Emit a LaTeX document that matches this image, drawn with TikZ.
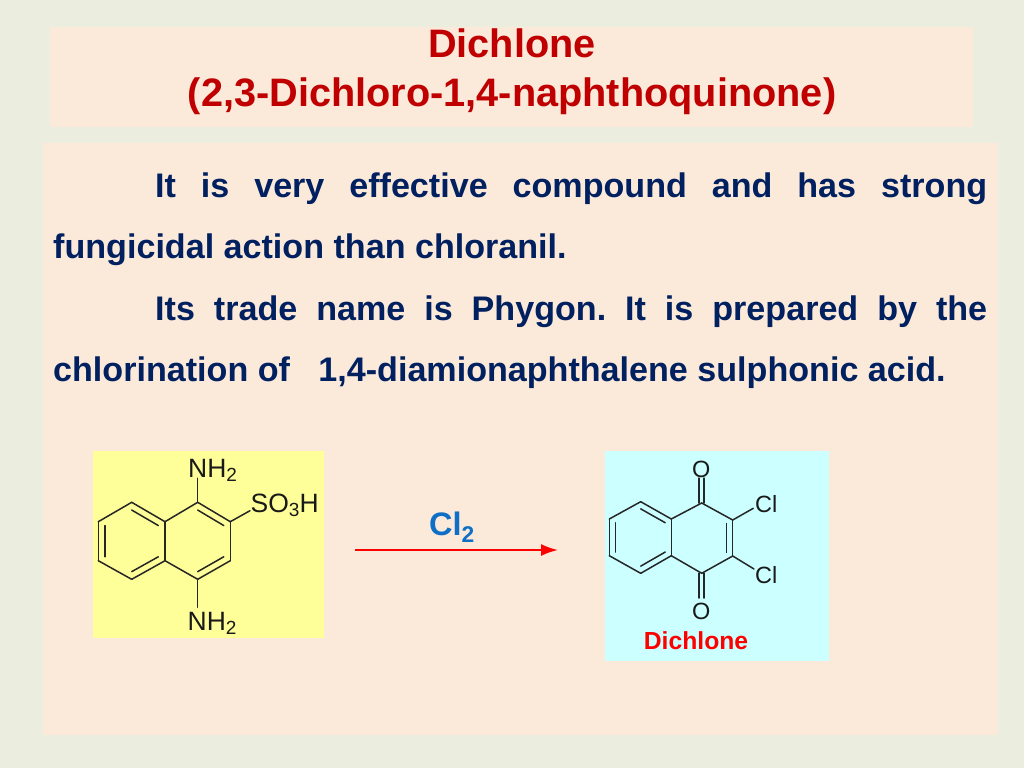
\documentclass[tikz,border=0pt]{standalone}
\usepackage{fontspec}
\setmainfont{Liberation Sans}
\usetikzlibrary{calc,arrows.meta}
\definecolor{pagebg}{HTML}{EBEEDE}
\definecolor{panelbg}{HTML}{FBE9DA}
\definecolor{titlered}{HTML}{C00000}
\definecolor{bodyblue}{HTML}{002060}
\definecolor{reagentblue}{HTML}{0F6FC6}
\definecolor{molyellow}{HTML}{FFFF99}
\definecolor{molcyan}{HTML}{CCFFFF}
\newcommand{\molsub}[1]{\raisebox{-4.5pt}{\fontsize{19}{19}\selectfont #1}}
\frenchspacing
\begin{document}
\begin{tikzpicture}[
    x=1pt,y=-1pt,
    panel/.style={fill=panelbg,draw=none},
    title/.style={font=\fontsize{39.7}{39.7}\bfseries\selectfont,text=titlered,inner sep=0pt,anchor=base},
    para/.style={font=\fontsize{34.1}{34.1}\bfseries\selectfont,text=bodyblue,inner sep=0pt,anchor=base west},
    bond/.style={draw=black!85,line width=1.5pt,line cap=round},
    atom/.style={font=\fontsize{26.5}{26.5}\selectfont,text=black!90,inner sep=0pt,anchor=base west},
    small/.style={font=\fontsize{23.5}{23.5}\selectfont,text=black!90,inner sep=0pt,anchor=base west},
    reaction/.style={draw=red,line width=2pt,-{Latex[length=17pt,width=12pt]}},
    ]
\def\innerf{0.8} % Inner line of a ring double bond

    %% Background and panels
    \fill[pagebg] (0,0) rectangle (1024,768);
    \fill[panel] (50,27) rectangle (973,127);
    \fill[panel] (43,143) rectangle (998,735);
    \fill[molyellow] (93,451) rectangle (324,638);
    \fill[molcyan] (605,451) rectangle (829,661);

    %% Title
    \node[title] (name) at (512,57) {Dichlone};
    \node[title] (full) at (512,106) {(2,3-Dichloro-1,4-naphthoquinone)};

    %% Paragraphs
    \node[para] (line1) at (155,197) {\makebox[832pt][s]{It is very effective compound and has strong}};
    \node[para] (line2) at (53,258) {fungicidal action than chloranil.};
    \node[para] (line3) at (155,320) {\makebox[832pt][s]{Its trade name is Phygon. It is prepared by the}};
    \node[para] (line4) at (53,381) {chlorination of \ \ 1,4-diamionaphthalene sulphonic acid.};

    %% Starting material
    \coordinate (a1) at (98.3,521.7);
    \coordinate (a2) at (131.7,502.3);
    \coordinate (a3) at (165,521.7);
    \coordinate (a4) at (165,560.7);
    \coordinate (a5) at (131.7,579.3);
    \coordinate (a6) at (98.3,560.7);
    \coordinate (a7) at (197.7,502.3);
    \coordinate (a8) at (230.3,521.7);
    \coordinate (a9) at (230.3,560.7);
    \coordinate (a10) at (197.7,579.3);
    \coordinate (ac1) at (131.7,541);
    \coordinate (ac2) at (197.7,541);
    \coordinate (nt) at (197.7,478.3);
    \coordinate (nb) at (197.7,607.3);
    \coordinate (so) at (250,510.7);
    \node[atom] (amine1) at (188,477) {NH\molsub{2}};
    \node[atom] (sulfo) at (250.5,512) {SO\molsub{3}H};
    \node[atom] (amine2) at (187.5,630) {NH\molsub{2}};
    \foreach \p/\q in {a1/a2,a2/a3,a3/a4,a4/a5,a5/a6,a6/a1,a3/a7,a7/a8,a8/a9,a9/a10,a10/a4,nt/a7,a10/nb,a8/so}
        \draw[bond] (\p) -- (\q);
    % Inner lines, pulled towards the ring centre
    \foreach \p/\q/\c in {a2/a3/ac1,a6/a1/ac1,a4/a5/ac1,a7/a8/ac2,a9/a10/ac2}
        \draw[bond] ($(\c)!\innerf!(\p)$) -- ($(\c)!\innerf!(\q)$);

    %% Reagent and arrow
    \node[font=\fontsize{32.5}{32.5}\bfseries\selectfont,text=reagentblue,inner sep=0pt,anchor=base west] (cltwo) at (429,535) {Cl\textsubscript{2}};
    \coordinate (arrowa) at (355,550);
    \coordinate (arrowb) at (558,550);
    \draw[reaction] (arrowa) -- (arrowb);

    %% Product
    \coordinate (b1) at (609.3,519);
    \coordinate (b2) at (640.7,501.7);
    \coordinate (b3) at (671.3,519);
    \coordinate (b4) at (671.3,555.7);
    \coordinate (b5) at (640.7,573.3);
    \coordinate (b6) at (609.3,555.7);
    \coordinate (b7) at (701.7,503);
    \coordinate (b8) at (732.7,520);
    \coordinate (b9) at (732.7,556);
    \coordinate (b10) at (701.7,573.3);
    \coordinate (bc1) at (640.7,537.5);
    \coordinate (bc2) at (701.7,538);
    \coordinate (cla) at (753.3,508.3);
    \coordinate (clb) at (754,569);
    \coordinate (cot) at (701.7,478);
    \coordinate (cob) at (701.7,598);
    \node[small] (oxo1) at (692,477) {O};
    \node[small] (oxo2) at (692,619) {O};
    \node[small] (chloro1) at (755,512) {Cl};
    \node[small] (chloro2) at (755,583) {Cl};
    \node[font=\fontsize{24.7}{24.7}\bfseries\selectfont,text=red,inner sep=0pt,anchor=base] (product) at (696,649) {Dichlone};
    \foreach \p/\q in {b1/b2,b2/b3,b3/b4,b4/b5,b5/b6,b6/b1,b3/b7,b7/b8,b8/b9,b9/b10,b10/b4,b8/cla,b9/clb}
        \draw[bond] (\p) -- (\q);
    \foreach \p/\q/\c in {b2/b3/bc1,b6/b1/bc1,b4/b5/bc1,b8/b9/bc2}
        \draw[bond] ($(\c)!\innerf!(\p)$) -- ($(\c)!\innerf!(\q)$);
    % Carbonyls
    \draw[bond] ([xshift=-2.5pt]b7) -- ([xshift=-2.5pt]cot);
    \draw[bond] ([xshift=2.5pt]b7) -- ([xshift=2.5pt]cot);
    \draw[bond] ([xshift=-2.5pt]b10) -- ([xshift=-2.5pt]cob);
    \draw[bond] ([xshift=2.5pt]b10) -- ([xshift=2.5pt]cob);
\end{tikzpicture}
\end{document}
